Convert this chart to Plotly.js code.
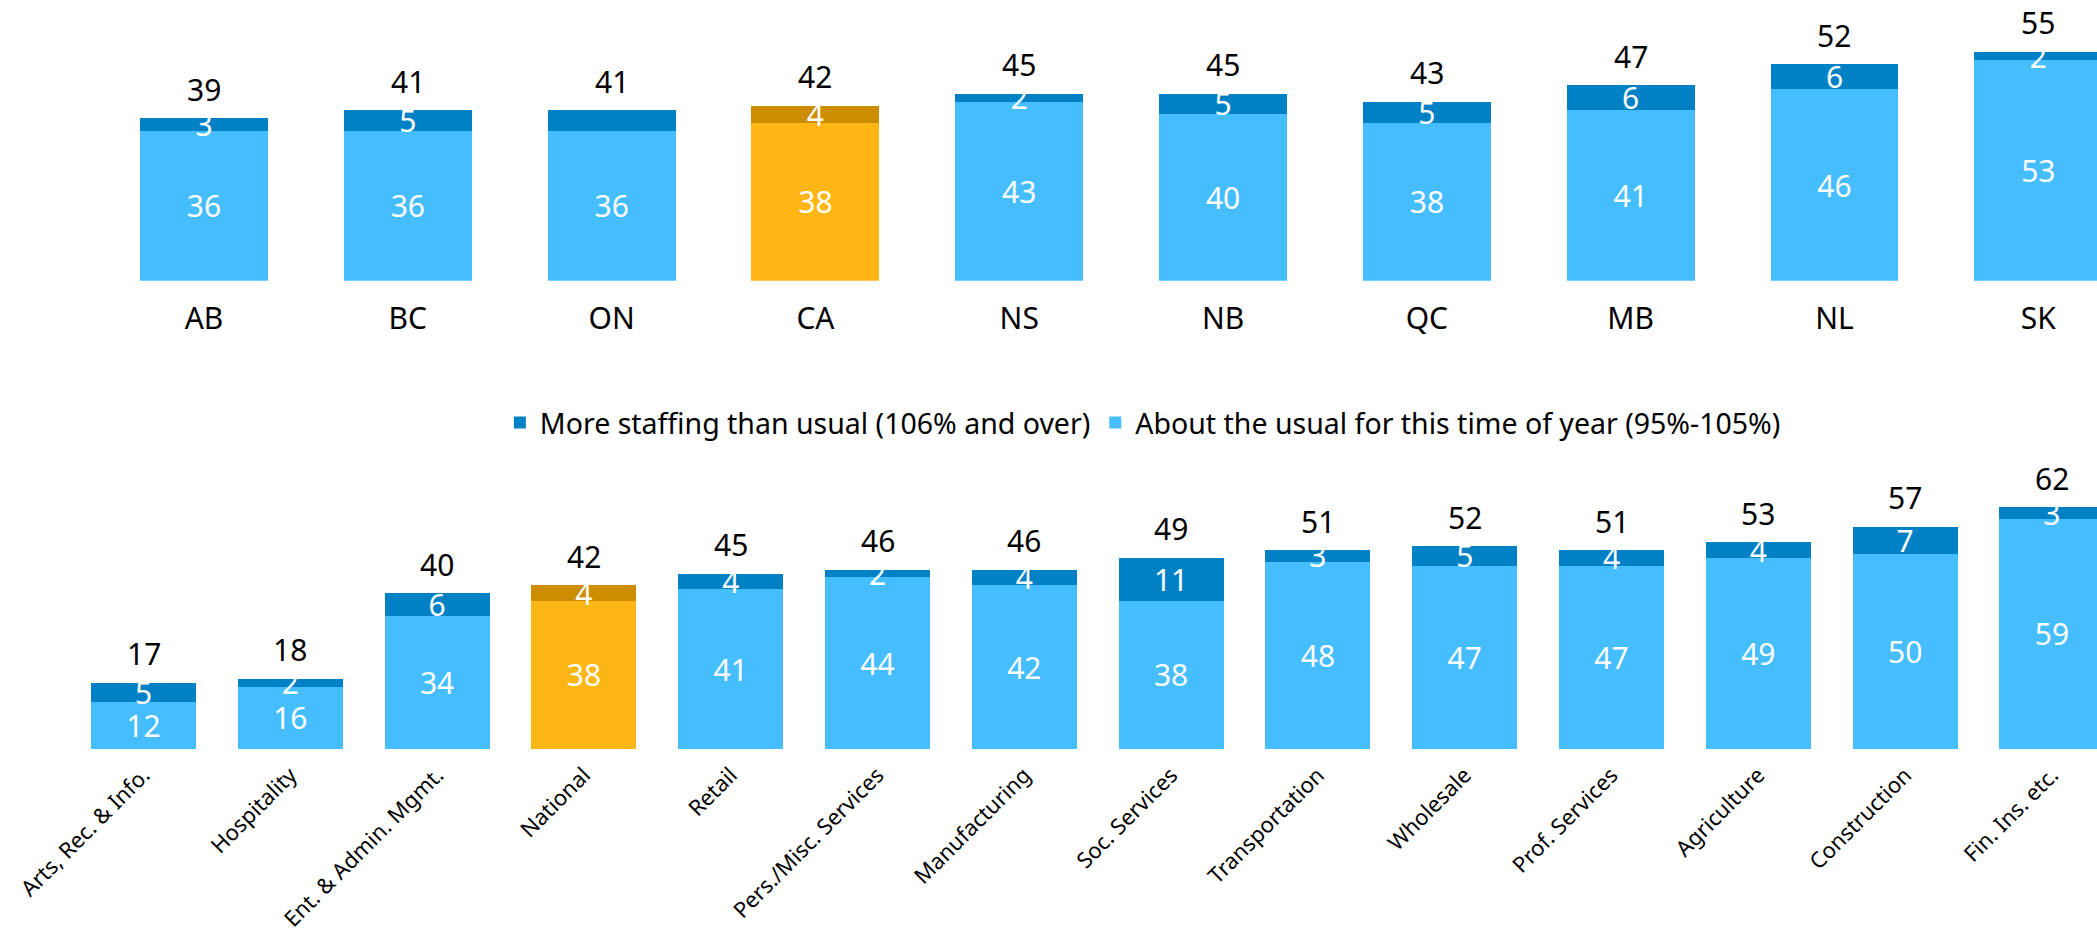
<!DOCTYPE html>
<html>
<head>
<meta charset="utf-8">
<script src="https://cdn.plot.ly/plotly-3.0.1.min.js"></script>
<style>
  html, body { margin: 0; padding: 0; background: #ffffff; }
  #chart { width: 2097px; height: 936px; }
</style>
</head>
<body>
<div id="chart"></div>
<script>
// ---- Data: provinces (top panel) ----
const provinces = ['AB', 'BC', 'ON', 'CA', 'NS', 'NB', 'QC', 'MB', 'NL', 'SK'];
const provUsual = [36, 36, 36, 38, 43, 40, 38, 41, 46, 53];
const provMore = [3, 5, 5, 4, 2, 5, 5, 6, 6, 2];
const provMoreLabels = ['3', '5', '', '4', '2', '5', '5', '6', '6', '2'];
const provTotals = [39, 41, 41, 42, 45, 45, 43, 47, 52, 55];

// ---- Data: sectors (bottom panel) ----
const sectors = ['Arts, Rec. & Info.', 'Hospitality', 'Ent. & Admin. Mgmt.', 'National', 'Retail',
  'Pers./Misc. Services', 'Manufacturing', 'Soc. Services', 'Transportation', 'Wholesale',
  'Prof. Services', 'Agriculture', 'Construction', 'Fin. Ins. etc.'];
const secUsual = [12, 16, 34, 38, 41, 44, 42, 38, 48, 47, 47, 49, 50, 59];
const secMore = [5, 2, 6, 4, 4, 2, 4, 11, 3, 5, 4, 4, 7, 3];
const secTotals = [17, 18, 40, 42, 45, 46, 46, 49, 51, 52, 51, 53, 57, 62];

const seriesNames = ['About the usual for this time of year (95%-105%)', 'More staffing than usual (106% and over)'];
const highlightCats = ['CA', 'National'];

// ---- Styles ----
const FONT = 'Noto Sans, Open Sans, sans-serif';
const LIGHT = '#45BDFF', DARK = '#0081C6', LIGHT_HI = '#FDB614', DARK_HI = '#CC8E00';
const colorsFor = (cats, base, hi) => cats.map(c => highlightCats.includes(c) ? hi : base);

const W = 2097, H = 936;
function barTrace(cats, vals, labels, color, name, xa, ya, width, showlegend) {
  return {
    type: 'bar', x: cats, y: vals, name: name, xaxis: xa, yaxis: ya,
    width: width, showlegend: showlegend, legendgroup: name,
    marker: { color: color, line: { width: 0 } },
    text: labels, texttemplate: '%{text}', textposition: 'inside', insidetextanchor: 'middle',
    textangle: 0, constraintext: 'none', cliponaxis: false,
    textfont: { family: FONT, size: 30, color: '#ffffff' },
    hoverinfo: 'skip'
  };
}
function totalAnnotations(cats, totals, xa, ya) {
  return cats.map((c, i) => ({
    x: c, y: totals[i], xref: xa, yref: ya, text: String(totals[i]),
    showarrow: false, xanchor: 'center', yanchor: 'middle', yshift: 29,
    font: { family: FONT, size: 30, color: '#000000' }
  }));
}

const data = [
  barTrace(provinces, provUsual, provUsual.map(String), colorsFor(provinces, LIGHT, LIGHT_HI), seriesNames[0], 'x', 'y', 0.628, true),
  barTrace(provinces, provMore, provMoreLabels, colorsFor(provinces, DARK, DARK_HI), seriesNames[1], 'x', 'y', 0.628, true),
  barTrace(sectors, secUsual, secUsual.map(String), colorsFor(sectors, LIGHT, LIGHT_HI), seriesNames[0], 'x2', 'y2', 0.715, false),
  barTrace(sectors, secMore, secMore.map(String), colorsFor(sectors, DARK, DARK_HI), seriesNames[1], 'x2', 'y2', 0.715, false)
];

const layout = {
  width: W, height: H,
  margin: { l: 0, r: 0, t: 0, b: 0, pad: 0 },
  paper_bgcolor: '#ffffff', plot_bgcolor: '#ffffff',
  barmode: 'stack',
  font: { family: FONT, color: '#000000' },
  uniformtext: { mode: 'show', minsize: 30 },
  showlegend: true,
  legend: {
    orientation: 'h', x: 0.545, xanchor: 'center', y: 1 - 423 / H, yanchor: 'middle',
    traceorder: 'reversed', font: { family: FONT, size: 28.5, color: '#000000' },
    itemwidth: 30, bgcolor: 'rgba(0,0,0,0)'
  },
  annotations: totalAnnotations(provinces, provTotals, 'x', 'y')
    .concat(totalAnnotations(sectors, secTotals, 'x2', 'y2')),
  xaxis: {
    type: 'category', domain: [0, 1], anchor: 'y', range: [-1.001, 9.288],
    showgrid: false, zeroline: false, showline: false, ticks: '', ticklabelstandoff: 17,
    tickfont: { family: FONT, size: 30, color: '#000000' }, fixedrange: true
  },
  yaxis: {
    domain: [1 - 280.7 / H, 1], range: [0, 280.7 / 4.16], visible: false, fixedrange: true
  },
  xaxis2: {
    type: 'category', domain: [0, 1], anchor: 'y2', range: [-0.9775, 13.307],
    showgrid: false, zeroline: false, showline: false, ticks: '', tickangle: -45, ticklabelstandoff: 8,
    tickfont: { family: FONT, size: 22, color: '#000000' }, fixedrange: true
  },
  yaxis2: {
    domain: [1 - 749 / H, 1 - 460 / H], range: [0, (749 - 460) / 3.9], visible: false, fixedrange: true
  }
};

Plotly.newPlot('chart', data, layout, { displayModeBar: false, staticPlot: true });
</script>
</body>
</html>
